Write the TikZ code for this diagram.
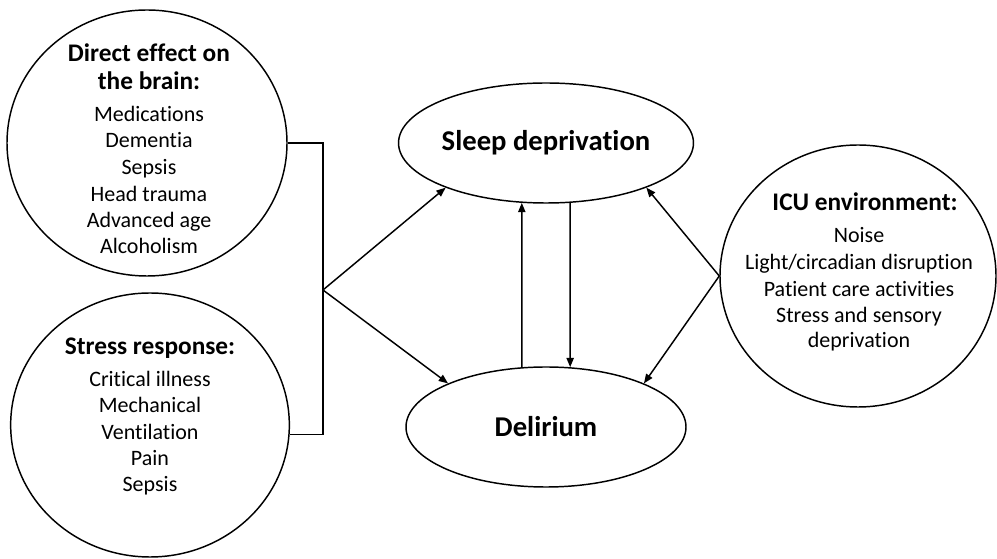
\documentclass[tikz,border=0pt]{standalone}
\usepackage{fontspec}
\setmainfont{Carlito}[Ligatures=NoCommon]
\usetikzlibrary{arrows.meta,shapes.geometric}

\begin{document}
\begin{tikzpicture}[x=0.75pt, y=-0.75pt, line width=1.1pt,
  bubble/.style={draw, ellipse, inner sep=0pt},
  head/.style={font=\fontsize{19}{22}\selectfont\bfseries, anchor=base, inner sep=0pt},
  item/.style={font=\fontsize{16.5}{20}\selectfont, anchor=base, inner sep=0pt},
  big/.style={font=\fontsize{21.5}{25}\selectfont\bfseries},
  arr/.style={-{Triangle[length=7pt,width=5.5pt]}}]
  \useasboundingbox (0,0) rectangle (997,559);
  % causes
  \node[bubble, minimum width=210pt, minimum height=199.5pt] (brain) at (147,143) {};
  \node[bubble, minimum width=209pt, minimum height=198pt] (stress) at (150,425) {};
  \node[bubble, minimum width=207pt, minimum height=196.5pt] (icu) at (858,276) {};
  % outcomes
  \node[bubble, big, minimum width=210pt, minimum height=90pt] (sleep) at (546,143) {Sleep deprivation};
  \node[bubble, big, minimum width=210pt, minimum height=90pt] (delirium) at (546,427) {Delirium};

  % text of the circles
  \node[head] (brainA) at (149,62) {Direct effect on};
  \node[head] (brainB) at (149,90) {the brain:};
  \foreach \y/\txt [count=\i] in {122/Medications, 148/Dementia, 175/Sepsis,
      202/Head trauma, 228/Advanced age, 254/Alcoholism}
    \node[item] (brain\i) at (149,\y) {\txt};
  \node[head] (stressA) at (150,355) {Stress response:};
  \foreach \y/\txt [count=\i] in {387/Critical illness, 413/Mechanical,
      440/Ventilation, 466/Pain, 492/Sepsis}
    \node[item] (stress\i) at (150,\y) {\txt};
  \node[head] (icuA) at (865,211) {ICU environment:};
  \foreach \y/\txt [count=\i] in {243/Noise, 270/{Light/circadian disruption},
      297/Patient care activities, 323/Stress and sensory, 348/deprivation}
    \node[item] (icu\i) at (859,\y) {\txt};

  % bracket and arrows
  \coordinate (apex) at (323,290);
  \draw (brain.east) -| (apex) |- (stress.-4);
  \draw[arr] (apex) -- (sleep.204);
  \draw[arr] (apex) -- (delirium.156);
  \draw[arr] (icu.west) -- (sleep.-24);
  \draw[arr] (icu.west) -- (delirium.24);
  \draw[arr] (delirium.112) -- (sleep.248);
  \draw[arr] (sleep.292) -- (delirium.68);
\end{tikzpicture}
\end{document}
